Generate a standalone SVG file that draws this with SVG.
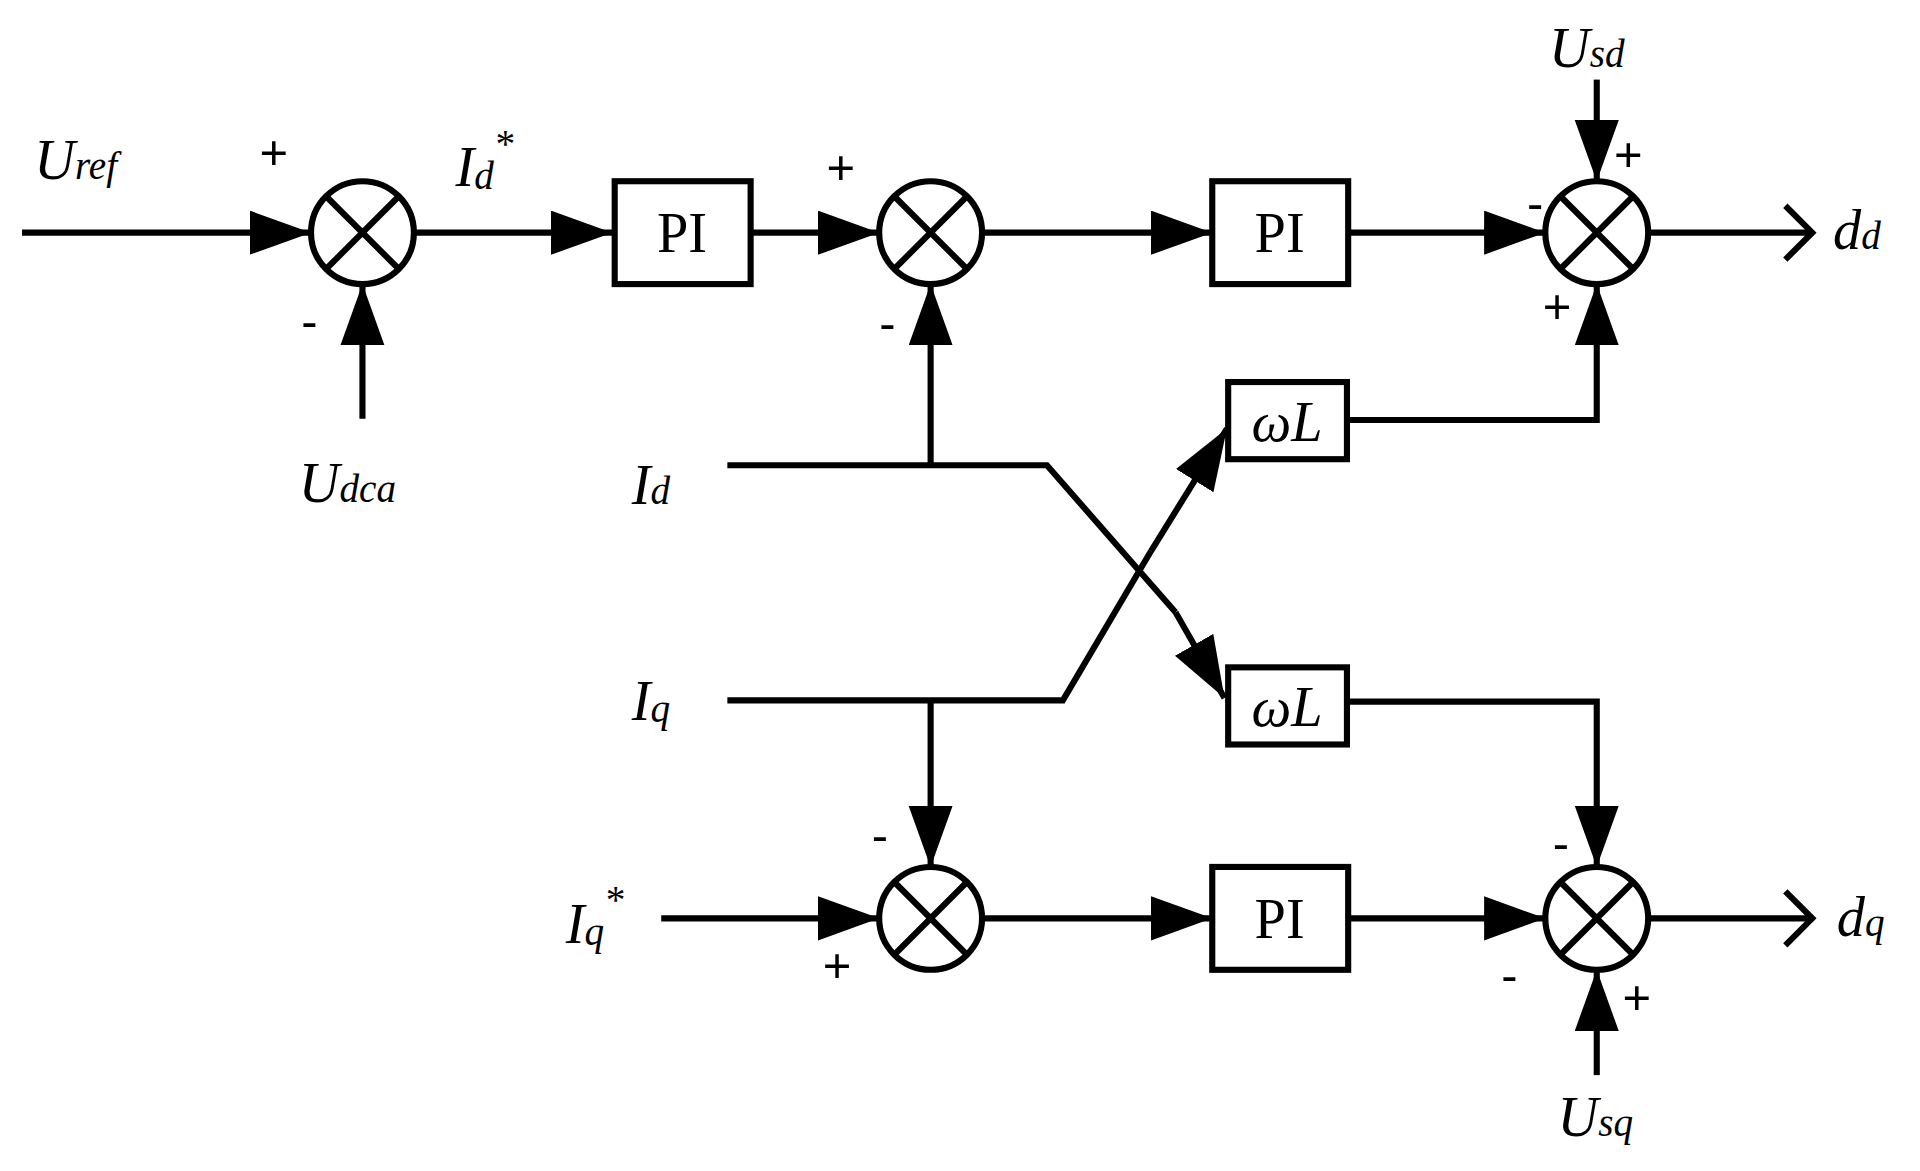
<svg xmlns="http://www.w3.org/2000/svg" width="1920" height="1171" viewBox="0 0 1920 1171">
<defs>
<marker id="ar" markerUnits="userSpaceOnUse" markerWidth="52" markerHeight="40" refX="50" refY="18" orient="auto"><path d="M0,0 L50,18 L0,36 z" fill="#000"/></marker>
<marker id="op" markerUnits="userSpaceOnUse" markerWidth="30" markerHeight="50" refX="24" refY="24" orient="auto"><path d="M2,2 L24,24 L2,46" fill="none" stroke="#000" stroke-width="5"/></marker>
<g id="sumshape"><circle r="42" fill="#fff" stroke="#000" stroke-width="5"/><path d="M-29.7,-29.7 L29.7,29.7 M29.7,-29.7 L-29.7,29.7" stroke="#000" stroke-width="5"/></g>
</defs>
<style>
.l{fill:none;stroke:#000;stroke-width:5}
.a{marker-end:url(#ar)}
.b{fill:#fff;stroke:#000;stroke-width:5}
.t{font-family:"Liberation Serif",serif;font-style:italic;font-size:46px}
.s{font-size:32px}
.p{font-family:"Liberation Serif",serif;font-size:46px}
.g{font-family:"Liberation Sans",sans-serif;font-size:40px}
</style>
<rect width="1920" height="1171" fill="#fff"/>
<g transform="scale(1.2245)">
<g id="connectors">
<path class="l a" d="M18,190 H254"/>
<path class="l a" d="M296,342 V232"/>
<path class="l a" d="M338,190 H500"/>
<path class="l a" d="M613,190 H718"/>
<path class="l a" d="M802,190 H990"/>
<path class="l a" d="M1101,190 H1262"/>
<path class="l a" d="M1304,65 V148"/>
<path class="l" d="M1346,190 H1480" marker-end="url(#op)"/>
<path class="l" d="M594,380 H855 L960,500"/>
<path class="l a" d="M960,500 L1000,570"/>
<path class="l a" d="M760,380 V232"/>
<path class="l" d="M594,572 H868 L940,450"/>
<path class="l a" d="M940,450 L1002,350"/>
<path class="l a" d="M1100,343 H1304 V232"/>
<path class="l a" d="M1100,573 H1304 V708"/>
<path class="l a" d="M760,572 V708"/>
<path class="l a" d="M540,750 H718"/>
<path class="l a" d="M802,750 H990"/>
<path class="l a" d="M1101,750 H1262"/>
<path class="l a" d="M1304,878 V792"/>
<path class="l" d="M1346,750 H1480" marker-end="url(#op)"/>
</g>
<g id="sum1"><use href="#sumshape" x="296" y="190"/></g>
<g id="sum2"><use href="#sumshape" x="760" y="190"/></g>
<g id="sum3"><use href="#sumshape" x="1304" y="190"/></g>
<g id="sum4"><use href="#sumshape" x="760" y="750"/></g>
<g id="sum5"><use href="#sumshape" x="1304" y="750"/></g>
<g id="pi1"><rect class="b" x="502" y="148" width="111" height="84"/><text class="p" x="557" y="206" text-anchor="middle">PI</text></g>
<g id="pi2"><rect class="b" x="990" y="148" width="111" height="84"/><text class="p" x="1045" y="206" text-anchor="middle">PI</text></g>
<g id="pi3"><rect class="b" x="990" y="708" width="111" height="84"/><text class="p" x="1045" y="766" text-anchor="middle">PI</text></g>
<g id="wl1"><rect class="b" x="1003" y="312" width="97" height="63"/><text class="t" x="1051" y="360" text-anchor="middle">ωL</text></g>
<g id="wl2"><rect class="b" x="1003" y="545" width="97" height="63"/><text class="t" x="1051" y="593" text-anchor="middle">ωL</text></g>
<g id="labels">
<text class="t" x="28" y="146">U<tspan class="s" dy="0">ref</tspan></text>
<text class="t" x="244" y="410">U<tspan class="s">dca</tspan></text>
<text class="t" x="372" y="152">I<tspan class="s" dy="2">d</tspan><tspan class="s" dy="-26">*</tspan></text>
<text class="t" x="516" y="412">I<tspan class="s">d</tspan></text>
<text class="t" x="516" y="588">I<tspan class="s" dy="2">q</tspan></text>
<text class="t" x="462" y="770">I<tspan class="s" dy="2">q</tspan><tspan class="s" dy="-26">*</tspan></text>
<text class="t" x="1265" y="55">U<tspan class="s">sd</tspan></text>
<text class="t" x="1272" y="928">U<tspan class="s">sq</tspan></text>
<text class="t" x="1497" y="203">d<tspan class="s">d</tspan></text>
<text class="t" x="1500" y="764">d<tspan class="s">q</tspan></text>
<text class="g" x="212" y="138">+</text>
<text class="g" x="246" y="276">-</text>
<text class="g" x="675" y="150">+</text>
<text class="g" x="718" y="278">-</text>
<text class="g" x="1318" y="140">+</text>
<text class="g" x="1247" y="180">-</text>
<text class="g" x="1260" y="264">+</text>
<text class="g" x="712" y="696">-</text>
<text class="g" x="672" y="802">+</text>
<text class="g" x="1268" y="702">-</text>
<text class="g" x="1226" y="810">-</text>
<text class="g" x="1325" y="828">+</text>
</g>
</g>
</svg>
